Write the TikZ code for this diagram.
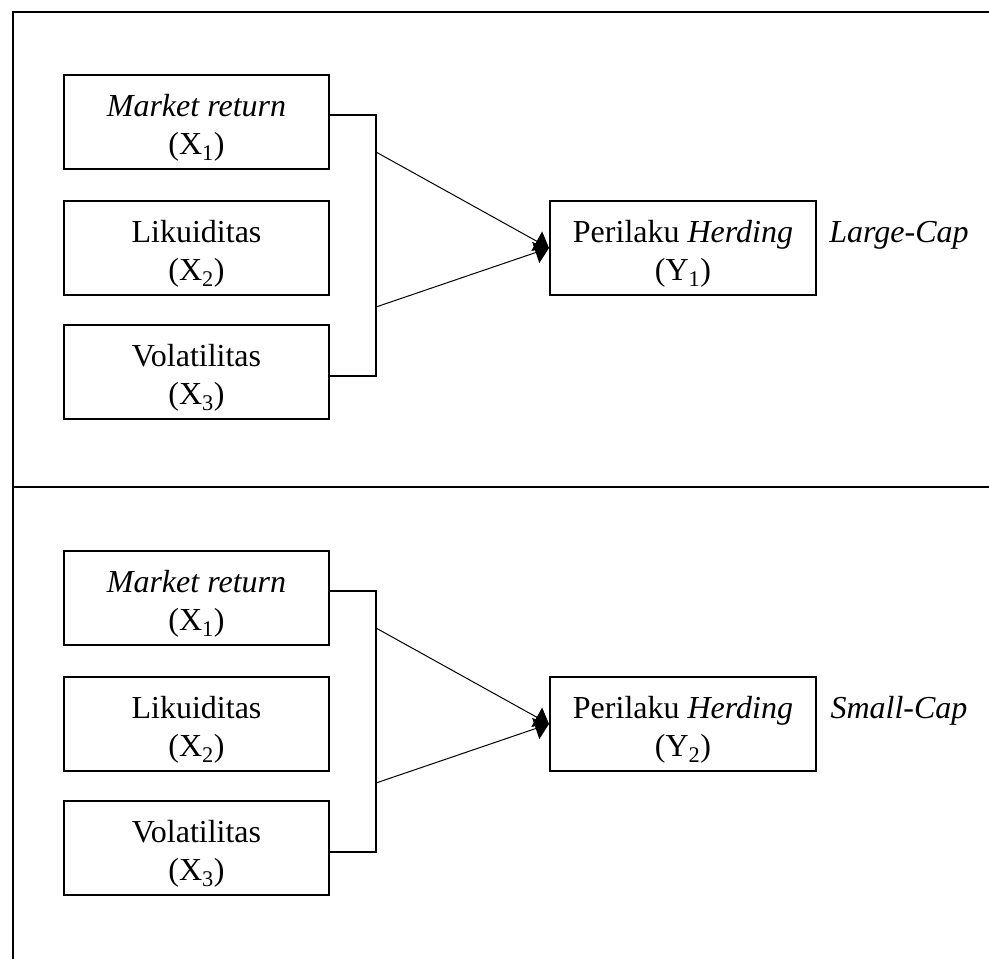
\documentclass[tikz,border=0pt]{standalone}
\usepackage{fontspec}
\setmainfont{Liberation Serif}
\usetikzlibrary{arrows.meta,calc}
\begin{document}
\begin{tikzpicture}[x=1pt,y=-1pt,
  varbox/.style={draw,line width=2pt,minimum width=265pt,minimum height=94pt,inner sep=0pt},
  vtext/.style={align=center,inner sep=0pt,font=\fontsize{32}{38}\selectfont,yshift=-6pt},
  lbl/.style={font=\fontsize{32}{38}\selectfont\itshape,inner sep=0pt},
  frame/.style={line width=2.2pt},
  brk/.style={line width=2pt},
  conn/.style={line width=1pt,-{Triangle[length=14pt,width=22pt]}}]
\useasboundingbox (0,0) rectangle (989,959);
\draw[frame] (13,959) -- (13,12) -- (989,12);
\draw[frame] (13,487) -- (989,487);
\foreach \s/\o/\t/\n in {a/0/{Large-Cap}/1, b/476/{Small-Cap}/2}{
  \node[varbox] (x1\s) at (196.5,122+\o) {};
  \node[varbox] (x2\s) at (196.5,247.5+\o) {};
  \node[varbox] (x3\s) at (196.5,371.5+\o) {};
  \node[vtext] (t1\s) at (x1\s.center) {\textit{Market return}\\(X\textsubscript{1})};
  \node[vtext] (t2\s) at (x2\s.center) {Likuiditas\\(X\textsubscript{2})};
  \node[vtext] (t3\s) at (x3\s.center) {Volatilitas\\(X\textsubscript{3})};
  \coordinate (bt\s) at (376,115+\o);
  \coordinate (bb\s) at (376,376+\o);
  \coordinate (pu\s) at (376,152+\o);
  \coordinate (pl\s) at (376,307+\o);
  \draw[brk] ([yshift=7pt]x1\s.east) -- (bt\s) -- (bb\s) -- ([yshift=-4.5pt]x3\s.east);
  \node[varbox,minimum width=266pt] (y\s) at (683,248+\o) {};
  \node[vtext] (ty\s) at (y\s.center) {Perilaku \textit{Herding}\\(Y\textsubscript{\n})};
  \draw[conn] (pu\s) -- (y\s.west);
  \draw[conn] (pl\s) -- (y\s.west);
  \node[lbl,anchor=base] (l\s) at (899,242+\o) {\t};
}
\end{tikzpicture}
\end{document}
